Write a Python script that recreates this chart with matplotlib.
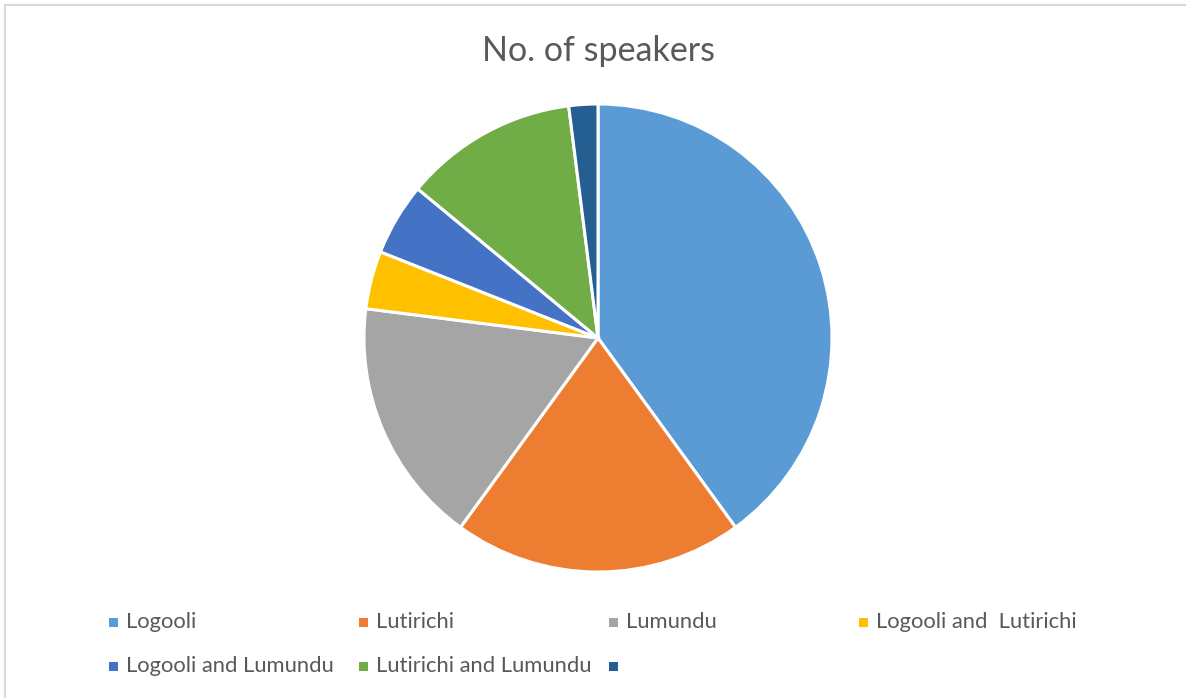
import matplotlib
matplotlib.use("Agg")
import matplotlib.pyplot as plt
from matplotlib.patches import Rectangle
from matplotlib.lines import Line2D

categories = ["Logooli", "Lutirichi", "Lumundu", "Logooli and  Lutirichi",
              "Logooli and Lumundu", "Lutirichi and Lumundu", ""]
values = [40, 20, 17, 4, 5, 12, 2]
colors = ["#5B9BD5", "#ED7D31", "#A5A5A5", "#FFC000", "#4472C4", "#70AD47", "#255E91"]
title = "No. of speakers"

W, H = 1186, 698
fig = plt.figure(figsize=(W / 100, H / 100), dpi=100)
fig.patch.set_facecolor("white")

# chart frame (top and left edges visible)
fig.add_artist(Line2D([5 / W, 1.0], [1 - 5 / H, 1 - 5 / H], transform=fig.transFigure,
                      color="#D9D9D9", lw=1.5))
fig.add_artist(Line2D([5 / W, 5 / W], [0, 1 - 5 / H], transform=fig.transFigure,
                      color="#D9D9D9", lw=1.5))

cx, cy, r = 598, 338, 234
ax = fig.add_axes([(cx - r) / W, 1 - (cy + r) / H, 2 * r / W, 2 * r / H])
ax.pie(values, colors=colors, startangle=90, counterclock=False, radius=1,
       wedgeprops=dict(edgecolor="white", linewidth=2.2))
ax.set_xlim(-1.0, 1.0)
ax.set_ylim(-1.0, 1.0)
ax.set_aspect("equal")
ax.axis("off")

font = "Lato"
fig.text(599 / W, 1 - 51 / H, title, ha="center", va="center", fontsize=24.5,
         color="#595959", family=font)

# legend, 4 columns x 2 rows
col_x = [109, 359, 609, 859]
row_y = [622, 666]
for i, (lab, col) in enumerate(zip(categories, colors)):
    x = col_x[i % 4]
    y = row_y[i // 4]
    fig.add_artist(Rectangle((x / W, 1 - (y + 4.5) / H), 9 / W, 9 / H,
                             transform=fig.transFigure, facecolor=col, edgecolor="none"))
    fig.text((x + 17) / W, 1 - (y + 0.5) / H, lab, ha="left", va="center",
             fontsize=15.8, color="#595959", family=font)

fig.savefig("out.png", dpi=100)
